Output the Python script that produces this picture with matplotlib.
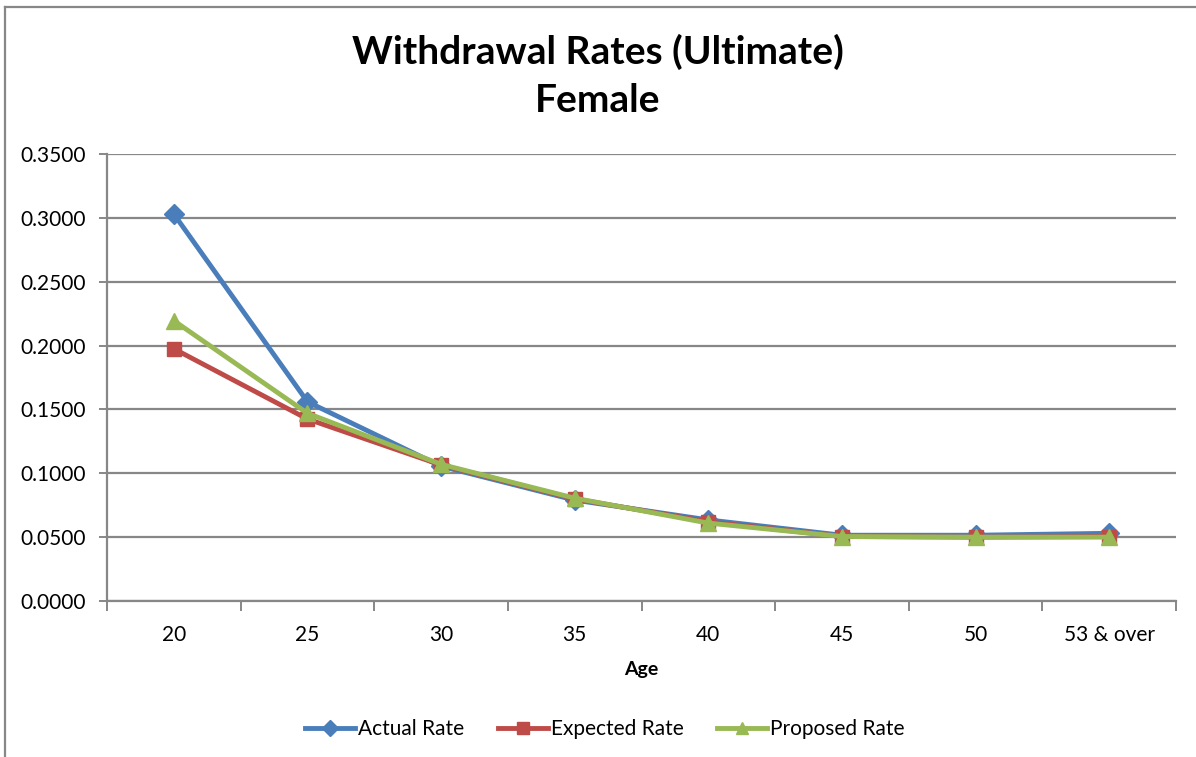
import matplotlib
matplotlib.use("Agg")
import matplotlib.pyplot as plt
from matplotlib.lines import Line2D

ages = ["20", "25", "30", "35", "40", "45", "50", "53 & over"]
actual_rate = [0.3030, 0.1560, 0.1055, 0.0790, 0.0635, 0.0515, 0.0515, 0.0530]
expected_rate = [0.1975, 0.1425, 0.1065, 0.0800, 0.0620, 0.0505, 0.0500, 0.0505]
proposed_rate = [0.2195, 0.1470, 0.1070, 0.0805, 0.0610, 0.0505, 0.0500, 0.0500]
y_ticks = [0.0, 0.05, 0.10, 0.15, 0.20, 0.25, 0.30, 0.35]

plt.rcParams['font.family'] = ['Lato', 'DejaVu Sans']

fig = plt.figure(figsize=(11.96, 7.57), dpi=100)
ax = fig.add_axes([107 / 1196, 1 - 601 / 757, (1176 - 107) / 1196, (601 - 154) / 757])

grid_c = "#878787"
x = list(range(len(ages)))

series = [
    ("Actual Rate", actual_rate, "#4A7EBB", "D", 10),
    ("Expected Rate", expected_rate, "#BE4B48", "s", 10),
    ("Proposed Rate", proposed_rate, "#98B954", "^", 11.5),
]
for label, vals, col, mk, ms in series:
    ax.plot(x, vals, color=col, lw=3.5, marker=mk, markersize=ms,
            markeredgecolor=col, markerfacecolor=col, label=label,
            solid_joinstyle="round", zorder=3)

ax.set_xlim(-0.5, len(ages) - 0.5)
ax.set_ylim(0, 0.35)
ax.set_yticks(y_ticks)
ax.set_yticklabels([f"{v:.4f}" for v in y_ticks])
ax.set_xticks(x)
ax.set_xticklabels(ages)
ax.set_xticks([i - 0.5 for i in range(len(ages) + 1)], minor=True)

ax.yaxis.grid(True, color=grid_c, lw=1.6, zorder=1)
ax.set_axisbelow(True)
for s in ["top", "right"]:
    ax.spines[s].set_visible(False)
for s in ["left", "bottom"]:
    ax.spines[s].set_color(grid_c)
    ax.spines[s].set_linewidth(1.6)

ax.tick_params(axis="y", which="major", length=6, width=1.4, color=grid_c,
               labelsize=15, pad=9)
ax.tick_params(axis="x", which="major", length=0, labelsize=15, pad=17)
ax.tick_params(axis="x", which="minor", length=7, width=1.4, color=grid_c)

ax.set_xlabel("Age", fontsize=14, fontweight="bold", labelpad=12)

fig.text(0.5, 1 - 52 / 757, "Withdrawal Rates (Ultimate)", ha="center", va="center",
         fontsize=28, fontweight="bold")
fig.text(0.5, 1 - 101 / 757, "Female", ha="center", va="center",
         fontsize=28, fontweight="bold")

handles = [Line2D([0], [0], color=c, lw=3.5, marker=m, markersize=ms * 0.8,
                  markerfacecolor=c, markeredgecolor=c)
           for _, _, c, m, ms in series]
fig.legend(handles, [s[0] for s in series], loc="center",
           bbox_to_anchor=(605 / 1196, 1 - 729 / 757), ncol=3, frameon=False,
           fontsize=15, handlelength=2.4, columnspacing=1.6, handletextpad=0.15)

# outer chart frame (left and top edges)
fig.add_artist(Line2D([5 / 1196, 5 / 1196], [0, 1 - 7 / 757], color=grid_c, lw=1.6,
                      transform=fig.transFigure))
fig.add_artist(Line2D([5 / 1196, 1], [1 - 7 / 757, 1 - 7 / 757], color=grid_c, lw=1.6,
                      transform=fig.transFigure))

fig.savefig("out.png", dpi=100, facecolor="white")
